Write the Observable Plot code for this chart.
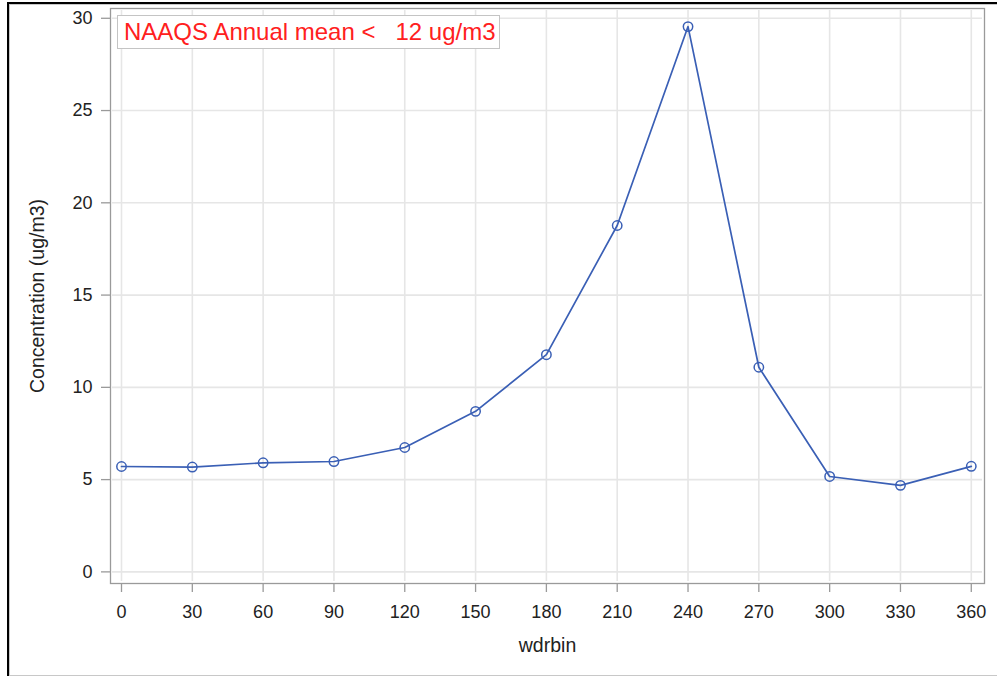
<!DOCTYPE html>
<html>
<head>
<meta charset="utf-8">
<script src="https://cdn.jsdelivr.net/npm/d3@7"></script>
<script src="https://cdn.jsdelivr.net/npm/@observablehq/plot@0.6"></script>
<style>
  html, body { margin: 0; padding: 0; background: #fff; }
  #wrap { position: relative; width: 997px; height: 676px; overflow: hidden; font-family: "Liberation Sans", Arial, sans-serif; }
  #wrap svg { position: absolute; left: 0; top: 0; }
  .bl { position: absolute; background: #000; }
  .gl { position: absolute; background: #c8c8c8; }
  #legend { position: absolute; left: 117px; top: 15px; width: 383px; height: 34px; box-sizing: border-box;
    border: 1px solid #c4c4c4; background: #fff; color: #ff2020; font-size: 24px; line-height: 32px;
    padding-left: 6px; white-space: pre; font-family: "Liberation Sans", Arial, sans-serif; }
</style>
</head>
<body>
<div id="wrap">
  <div class="bl" style="left:7px;top:2px;width:2px;height:674px"></div>
  <div class="bl" style="left:7px;top:2px;width:990px;height:2px"></div>
  <div class="gl" style="left:9px;top:4px;width:1px;height:672px"></div>
  <div class="gl" style="left:9px;top:4px;width:988px;height:1px"></div>
  <div class="gl" style="left:9px;top:675px;width:988px;height:1px"></div>
</div>
<script>
const wdrbin = [0, 30, 60, 90, 120, 150, 180, 210, 240, 270, 300, 330, 360];
const concentration = [5.71, 5.68, 5.91, 5.98, 6.74, 8.70, 11.77, 18.77, 29.55, 11.09, 5.17, 4.69, 5.72];
const xTicks = [0, 30, 60, 90, 120, 150, 180, 210, 240, 270, 300, 330, 360];
const yTicks = [0, 5, 10, 15, 20, 25, 30];
const xLabel = "wdrbin";
const yLabel = "Concentration (ug/m3)";
const legendText = "NAAQS Annual mean <   12 ug/m3";

const data = wdrbin.map((w, i) => ({wdrbin: w, conc: concentration[i]}));
const lineColor = "#3a5fb5";
const axisColor = "#9a9a9a";

const chart = Plot.plot({
  width: 997,
  height: 676,
  marginLeft: 110,
  marginRight: 13,
  marginTop: 8,
  marginBottom: 93,
  style: {fontFamily: "'Liberation Sans', Arial, sans-serif", fontSize: "18px", color: "#222", background: "transparent", overflow: "visible"},
  x: {domain: [-4.66, 365.6], axis: null},
  y: {domain: [-0.63, 30.53], axis: null},
  marks: [
    Plot.gridX(xTicks, {stroke: "#e6e6e6", strokeOpacity: 1, strokeWidth: 1.6, insetTop: 2, insetBottom: 2}),
    Plot.gridY(yTicks, {stroke: "#e6e6e6", strokeOpacity: 1, strokeWidth: 1.6, insetLeft: 2, insetRight: 2}),
    Plot.frame({stroke: axisColor, strokeWidth: 1.3}),
    Plot.axisX(xTicks, {anchor: "bottom", tickSize: 9, tickPadding: 13, stroke: axisColor, strokeWidth: 1.3, fill: "#222", fontSize: 18, label: null, tickFormat: d => String(d)}),
    Plot.axisY(yTicks, {anchor: "left", tickSize: 9, tickPadding: 9, stroke: axisColor, strokeWidth: 1.3, fill: "#222", fontSize: 18, label: null, tickFormat: d => String(d)}),
    Plot.text([yLabel], {frameAnchor: "left", textAnchor: "middle", lineAnchor: "middle", dx: -73, rotate: -90, fontSize: 19.5, fill: "#222"}),
    Plot.text([xLabel], {frameAnchor: "bottom", textAnchor: "middle", lineAnchor: "middle", dy: 62, fontSize: 19.5, fill: "#222"}),
    Plot.line(data, {x: "wdrbin", y: "conc", stroke: lineColor, strokeWidth: 1.7}),
    Plot.dot(data, {x: "wdrbin", y: "conc", r: 4.7, stroke: lineColor, strokeWidth: 1.5, fill: "none"})
  ]
});
const wrap = document.getElementById("wrap");
wrap.appendChild(chart);
const lg = document.createElement("div");
lg.id = "legend";
lg.textContent = legendText;
wrap.appendChild(lg);
</script>
</body>
</html>
